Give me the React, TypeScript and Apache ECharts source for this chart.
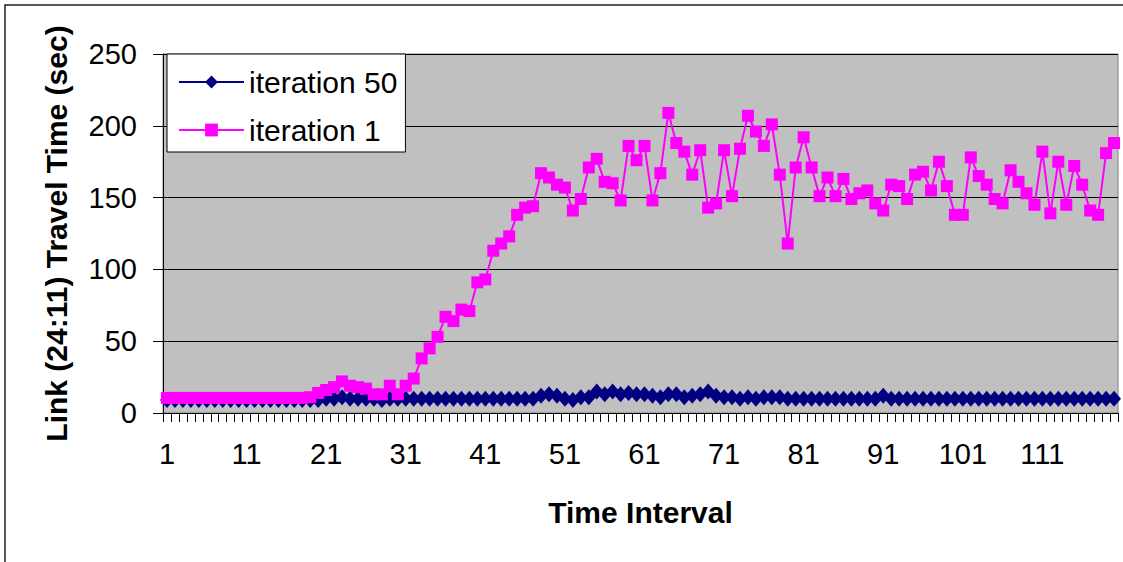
import React, { useEffect, useRef } from "react";
import * as echarts from "echarts";

const FONT = "'Liberation Sans', Arial, Helvetica, sans-serif";

// Time interval categories 1..120
const categories: string[] = Array.from({ length: 120 }, (_, i) => String(i + 1));

const yTicks = { min: 0, max: 250, interval: 50 };

// iteration 50 (navy diamonds)
const iteration50: number[] = [
  9, 9, 9, 9, 9, 9, 9, 9, 9, 9,
  9, 9, 9, 9, 9, 9, 9, 9, 9, 9,
  10, 10, 11, 10, 10, 10, 10, 9, 10, 10,
  10, 10, 10, 10, 10, 10, 10, 10, 10, 10,
  10, 10, 10, 10, 10, 10, 10, 12, 13, 12,
  10, 9, 11, 11, 15, 13, 15, 13, 14, 13,
  13, 12, 11, 13, 13, 11, 12, 13, 15, 12,
  11, 11, 10, 11, 10, 11, 11, 11, 10, 10,
  10, 10, 10, 10, 10, 10, 10, 10, 10, 10,
  12, 10, 10, 10, 10, 10, 10, 10, 10, 10,
  10, 10, 10, 10, 10, 10, 10, 10, 10, 10,
  10, 10, 10, 10, 10, 10, 10, 10, 10, 10,
];

// iteration 1 (magenta squares)
const iteration1: number[] = [
  10.5, 10.5, 10.5, 10.5, 10.5, 10.5, 10.5, 10.5, 10.5, 10.5,
  10.5, 10.5, 10.5, 10.5, 10.5, 10.5, 10.5, 10.5, 11, 14,
  16, 18, 22, 19, 18, 17, 13, 13, 19, 13,
  19, 24, 38, 45, 53, 67, 64, 72, 71, 91,
  93, 113, 118, 123, 138, 143, 144, 167, 164, 159,
  157, 141, 149, 171, 177, 161, 160, 148, 186, 176,
  186, 148, 167, 209, 188, 182, 166, 183, 143, 146,
  183, 151, 184, 207, 196, 186, 201, 166, 118, 171,
  192, 171, 151, 164, 151, 163, 149, 153, 155, 146,
  141, 159, 158, 149, 166, 168, 155, 175, 158, 138,
  138, 178, 165, 159, 149, 146, 169, 161, 153, 145,
  182, 139, 175, 145, 172, 159, 141, 138, 181, 188,
];

export default function App() {
  const ref = useRef<HTMLDivElement>(null);

  useEffect(() => {
    if (!ref.current) return;
    const chart = echarts.init(ref.current, null, { renderer: "svg" });
    const option: any = {
      animation: false,
      backgroundColor: "#ffffff",
      textStyle: { fontFamily: FONT, color: "#000" },
      graphic: [
        {
          type: "rect",
          z: -10,
          silent: true,
          shape: { x: 5, y: 5, width: 1300, height: 700 },
          style: { fill: "none", stroke: "#222", lineWidth: 1.5 },
        },
      ],
      grid: {
        left: 163,
        right: 5,
        top: 54,
        bottom: 149,
        show: true,
        backgroundColor: "#C0C0C0",
        borderColor: "#808080",
        borderWidth: 1,
      },
      legend: {
        orient: "vertical",
        left: 167,
        top: 54,
        backgroundColor: "#ffffff",
        borderColor: "#000",
        borderWidth: 1,
        borderRadius: 0,
        padding: [13, 8, 7, 11],
        itemWidth: 65,
        itemHeight: 16,
        itemGap: 18,
        textStyle: { fontSize: 30, lineHeight: 30, color: "#000", fontFamily: FONT },
        data: ["iteration 50", "iteration 1"],
      },
      xAxis: {
        type: "category",
        data: categories,
        boundaryGap: true,
        axisLine: { show: true, lineStyle: { color: "#000", width: 1 } },
        axisTick: { show: true, interval: 0, length: 9, lineStyle: { color: "#000", width: 1 } },
        axisLabel: { interval: 9, fontSize: 29, color: "#000", margin: 26, fontFamily: FONT },
        splitLine: { show: false },
        name: "Time Interval",
        nameLocation: "middle",
        nameGap: 84,
        nameTextStyle: { fontSize: 30, fontWeight: "bold", color: "#000", fontFamily: FONT },
      },
      yAxis: {
        type: "value",
        min: yTicks.min,
        max: yTicks.max,
        interval: yTicks.interval,
        axisLine: { show: true, lineStyle: { color: "#000", width: 1 } },
        axisTick: { show: true, length: 10, lineStyle: { color: "#000", width: 1 } },
        axisLabel: { fontSize: 29, color: "#000", margin: 26, fontFamily: FONT },
        splitLine: { show: true, lineStyle: { color: "#000", width: 1 } },
        name: "Link (24:11) Travel Time (sec)",
        nameLocation: "middle",
        nameGap: 92,
        nameTextStyle: { fontSize: 30, fontWeight: "bold", color: "#000", fontFamily: FONT },
      },
      series: [
        {
          name: "iteration 50",
          type: "line",
          data: iteration50,
          symbol: "diamond",
          symbolSize: [14, 16],
          showAllSymbol: true,
          lineStyle: { color: "#000080", width: 2 },
          itemStyle: { color: "#000080", borderWidth: 0 },
        },
        {
          name: "iteration 1",
          type: "line",
          data: iteration1,
          symbol: "rect",
          symbolSize: 12,
          showAllSymbol: true,
          lineStyle: { color: "#FF00FF", width: 2 },
          itemStyle: { color: "#FF00FF", borderWidth: 0 },
        },
      ],
    };
    chart.setOption(option);
    return () => {
      chart.dispose();
    };
  }, []);

  return (
    <div
      ref={ref}
      style={{ position: "fixed", left: 0, top: 0, width: 1123, height: 562 }}
    />
  );
}
